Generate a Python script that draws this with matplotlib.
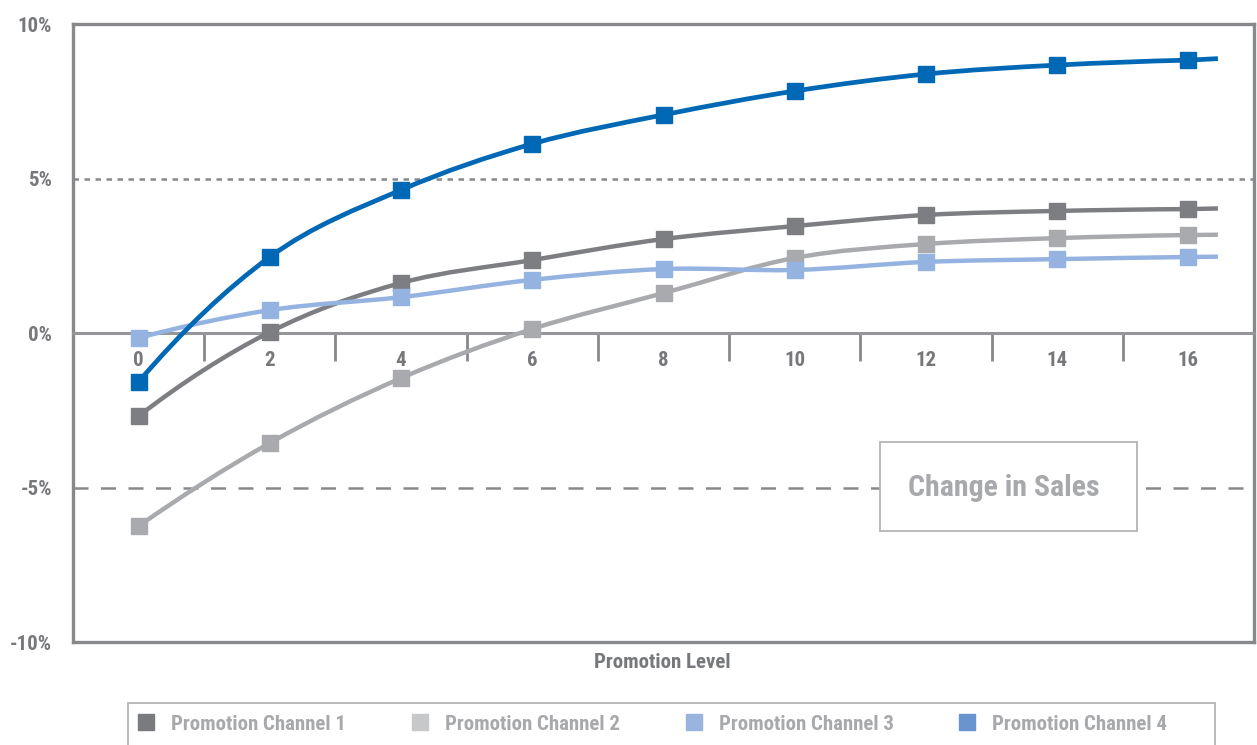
import numpy as np
import matplotlib
matplotlib.use("Agg")
import matplotlib.pyplot as plt
from matplotlib.path import Path
from matplotlib.patches import PathPatch, Rectangle
from matplotlib.lines import Line2D

# --- data ---
promo_levels = [0, 2, 4, 6, 8, 10, 12, 14, 16]
channel_1 = [-2.69, 0.03, 1.62, 2.36, 3.04, 3.46, 3.82, 3.95, 4.01]
channel_2 = [-6.25, -3.56, -1.46, 0.13, 1.29, 2.43, 2.88, 3.07, 3.17]
channel_3 = [-0.16, 0.74, 1.16, 1.72, 2.07, 2.04, 2.30, 2.39, 2.46]
channel_4 = [-1.58, 2.46, 4.63, 6.12, 7.06, 7.83, 8.38, 8.67, 8.83]

# the drawn lines run a little past the last marker
line_end_x = 16.45
line_end_y = [4.03, 3.18, 2.47, 8.88]

series_names = ["Promotion Channel 1", "Promotion Channel 2",
                "Promotion Channel 3", "Promotion Channel 4"]
y_ticks = [-10, -5, 0, 5, 10]

# --- style ---
LINE_COLORS = ["#7d7e82", "#a9aaad", "#95b3e0", "#0068b4"]
LEGEND_COLORS = ["#7a7b7f", "#c7c8ca", "#98b4df", "#6994cf"]
FRAME = "#88898c"
TEXT_DARK = "#77787b"
TEXT_LIGHT = "#a8a9ac"
FONT = ["Liberation Sans Narrow", "Roboto Condensed", "Open Sans Condensed",
        "DejaVu Sans"]

plt.rcParams["font.family"] = FONT
plt.rcParams["font.weight"] = "bold"
plt.rcParams["font.stretch"] = "condensed"


def smooth_path(xs, ys, tail_x, tail_y):
    """Smoothed line through the points (cubic Hermite, Excel-like),
    then a short straight run out to the tail point."""
    pts = np.column_stack([xs, ys]).astype(float)
    n = len(pts)
    tang = np.zeros_like(pts)
    for i in range(1, n - 1):
        tang[i] = (pts[i + 1] - pts[i - 1]) / 2.0
    tang[0] = 2 * (pts[1] - pts[0]) - tang[1]
    tang[-1] = 2 * (pts[-1] - pts[-2]) - tang[-2]
    verts = [pts[0]]
    codes = [Path.MOVETO]
    for i in range(n - 1):
        verts += [pts[i] + tang[i] / 3.0, pts[i + 1] - tang[i + 1] / 3.0,
                  pts[i + 1]]
        codes += [Path.CURVE4] * 3
    verts.append([tail_x, tail_y])
    codes.append(Path.LINETO)
    return Path(verts, codes)


fig = plt.figure(figsize=(12.57, 7.45), dpi=100)
ax = fig.add_axes([73 / 1257, 1 - 642 / 745, (1254 - 73) / 1257, (642 - 24) / 745])

ax.set_xlim(-1, 17)
ax.set_ylim(-10, 10)

# gridlines at +/-5%
ax.axhline(5, color=FRAME, lw=1.8, ls=(0, (2.2, 2.2)), zorder=1)
ax.axhline(-5, color=FRAME, lw=1.8, ls=(0, (6, 5)), zorder=1)

# series
all_series = [channel_1, channel_2, channel_3, channel_4]
for vals, end_y, col in zip(all_series, line_end_y, LINE_COLORS):
    patch = PathPatch(smooth_path(promo_levels, vals, line_end_x, end_y),
                      fill=False, edgecolor=col,
                      lw=3.4 if col == LINE_COLORS[3] else 3.2,
                      capstyle="butt", zorder=3)
    ax.add_patch(patch)
    ax.plot(promo_levels, vals, ls="none", marker="s", markersize=12,
            color=col, zorder=4)

# axes frame; bottom spine moved to 0 to act as the category axis
for side in ["left", "top", "right"]:
    ax.spines[side].set_color(FRAME)
    ax.spines[side].set_linewidth(2.4)
ax.spines["bottom"].set_position(("data", 0))
ax.spines["bottom"].set_color("#959699")
ax.spines["bottom"].set_linewidth(2.2)
ax.add_line(Line2D([0, 1], [0, 0], transform=ax.transAxes, color=FRAME,
                   lw=2.4, clip_on=False, zorder=5))

# x ticks: labels at even levels, tick marks at odd levels
ax.set_xticks(promo_levels)
ax.set_xticklabels([str(v) for v in promo_levels])
ax.set_xticks(np.arange(1, 17, 2), minor=True)
ax.tick_params(axis="x", which="major", length=0, pad=13,
               labelsize=15, labelcolor=TEXT_DARK)
ax.tick_params(axis="x", which="minor", length=20, width=2,
               color=FRAME, direction="out")

ax.set_yticks(y_ticks)
ax.set_yticklabels([f"{v}%" for v in y_ticks])
ax.tick_params(axis="y", length=0, pad=15, labelsize=15, labelcolor=TEXT_DARK)

fig.text(662 / 1257, 1 - 663 / 745, "Promotion Level", ha="center",
         va="center", fontsize=15, color=TEXT_DARK, fontweight="bold")

# "Change in Sales" box sitting on the -5% line
box = Rectangle((880, 745 - 531), 257, 89, transform=None,
                facecolor="white", edgecolor="#b3b4b6", lw=1.3, zorder=6)
fig.patches.append(box)
fig.text(1004 / 1257, 1 - 488 / 745, "Change in Sales", ha="center",
         va="center", fontsize=21.5, color=TEXT_LIGHT, fontweight="bold",
         zorder=7)

# legend strip at the bottom
leg_box = Rectangle((128, -10), 1215 - 128, 745 - 703 + 10, transform=None,
                    facecolor="white", edgecolor="#b3b4b6", lw=1.3)
fig.patches.append(leg_box)
handles = [Line2D([], [], ls="none", marker="s", markersize=12,
                  color=c) for c in LEGEND_COLORS]
leg = fig.legend(handles, series_names, loc="center left",
                 bbox_to_anchor=(127 / 1257, 1 - 724 / 745), ncol=4,
                 frameon=False, fontsize=15, handlelength=0.8,
                 handletextpad=0.8, columnspacing=3.15, borderpad=0)
for t in leg.get_texts():
    t.set_color(TEXT_LIGHT)

fig.savefig("out.png", dpi=100)
